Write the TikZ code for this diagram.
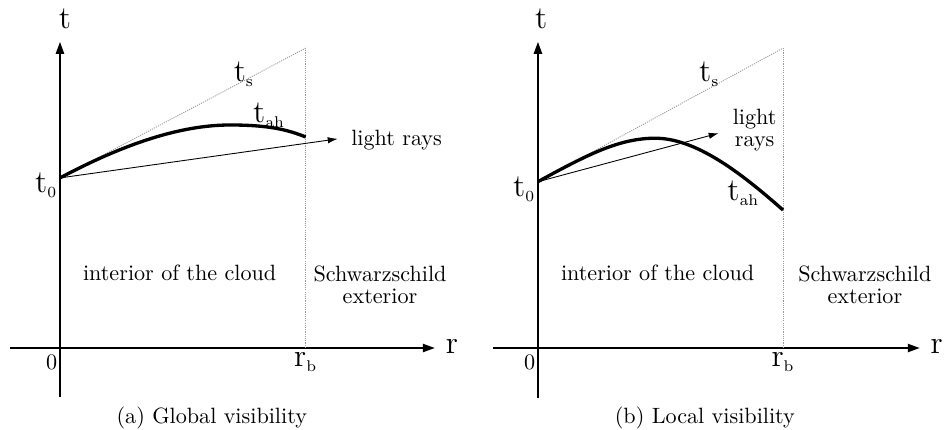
\documentclass[tikz,border=0pt]{standalone}
\usetikzlibrary{arrows.meta}
\newcommand{\tsub}[2]{\mathrm{#1}_{\scriptscriptstyle\mathrm{#2}}}
\begin{document}
\begin{tikzpicture}[
  axis/.style={thick,-{Triangle[length=1.9mm,width=1.3mm]}},
  guide/.style={gray!80,line width=0.4pt,dash pattern=on 0.5pt off 0.5pt},
  horizon/.style={line width=1.5pt},
  ray/.style={thin,-{Latex[length=1.6mm,width=1mm]}},
  big/.style={font=\Large}]
\useasboundingbox (-0.952,-1.286) rectangle (14.048,5.524);
% (a) global visibility
\coordinate (aO) at (0,0);
\coordinate (aB) at (0,-0.78);
\coordinate (aT) at (0,4.86);
\coordinate (aL) at (-0.79,0);
\coordinate (aR) at (5.95,0);
\coordinate (at0) at (0,2.70);
\coordinate (arb) at (3.9,0);
\coordinate (atop) at (3.9,4.76);
\coordinate (aray) at (4.41,3.32);
\draw[axis] (aB) -- (aT);
\draw[axis] (aL) -- (aR);
\draw[guide] (arb) -- (atop);
\draw[guide] (at0) -- (atop);
\draw[horizon] (at0) .. controls (1.0,3.23) and (1.9,3.54) .. (2.70,3.54)
  .. controls (3.3,3.54) and (3.6,3.47) .. (3.9,3.35);
\draw[ray] (at0) -- (aray);
\node[big] (alt) at (0.08,5.22) {t};
\node[big] (alr) at (6.22,0.03) {r};
\node[big,anchor=east,inner sep=1pt] (al0) at (0,2.58) {$\tsub{t}{0}$};
\node (ala) at (-0.13,-0.22) {0};
\node[big,below,inner sep=2pt] (alrb) at (arb) {$\tsub{r}{b}$};
\node[big] (alts) at (2.92,4.35) {$\tsub{t}{s}$};
\node[big] (alah) at (3.32,3.70) {$\tsub{t}{ah}$};
\node[anchor=west] (alray) at (4.5,3.3) {light rays};
\node (alin) at (1.90,1.19) {interior of the cloud};
\node[align=center] (alout) at (5.08,1.0) {Schwarzschild\\[-2pt]exterior};
\node (acap) at (2.41,-1.11) {(a) Global visibility};
% (b) local visibility
\begin{scope}[xshift=7.587cm]
\coordinate (bO) at (0,0);
\coordinate (bB) at (0,-0.8);
\coordinate (bT) at (0,4.86);
\coordinate (bL) at (-0.71,0);
\coordinate (bR) at (6.06,0);
\coordinate (bt0) at (0,2.64);
\coordinate (brb) at (3.89,0);
\coordinate (btop) at (3.89,4.76);
\coordinate (bray) at (2.87,3.41);
\draw[axis] (bB) -- (bT);
\draw[axis] (bL) -- (bR);
\draw[guide] (brb) -- (btop);
\draw[guide] (bt0) -- (btop);
\draw[horizon] (bt0) .. controls (0.8,3.08) and (1.3,3.33) .. (1.86,3.33)
  .. controls (2.5,3.33) and (3.2,2.8) .. (3.89,2.19);
\draw[ray] (bt0) -- (bray);
\node[big] (blt) at (0.05,5.22) {t};
\node[big] (blr) at (6.33,0.03) {r};
\node[big,anchor=east,inner sep=1pt] (bl0) at (0,2.52) {$\tsub{t}{0}$};
\node (bla) at (-0.13,-0.22) {0};
\node[big,below,inner sep=2pt] (blrb) at (brb) {$\tsub{r}{b}$};
\node[big] (blts) at (2.72,4.35) {$\tsub{t}{s}$};
\node[big] (blah) at (3.26,2.46) {$\tsub{t}{ah}$};
\node[align=center] (blray) at (3.44,3.46) {light\\[-2pt]rays};
\node (blin) at (1.90,1.19) {interior of the cloud};
\node[align=center] (blout) at (5.19,1.0) {Schwarzschild\\[-2pt]exterior};
\node (bcap) at (2.65,-1.11) {(b) Local visibility};
\end{scope}
\end{tikzpicture}
\end{document}
